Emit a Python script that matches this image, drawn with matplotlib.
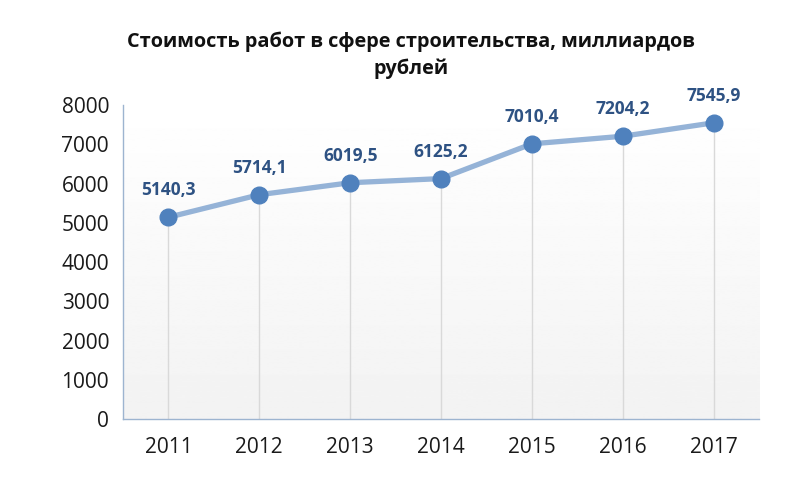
import matplotlib.pyplot as plt
import numpy as np

years = ["2011", "2012", "2013", "2014", "2015", "2016", "2017"]
values = [5140.3, 5714.1, 6019.5, 6125.2, 7010.4, 7204.2, 7545.9]
labels = ["5140,3", "5714,1", "6019,5", "6125,2", "7010,4", "7204,2", "7545,9"]
yticks = [0, 1000, 2000, 3000, 4000, 5000, 6000, 7000, 8000]
title = "Стоимость работ в сфере строительства, миллиардов\nрублей"

plt.rcParams['font.family'] = ['Open Sans', 'DejaVu Sans']

fig = plt.figure(figsize=(7.9, 4.87), dpi=100)
ax = fig.add_axes([0.1557, 0.1396, 0.8051, 0.6448])
x = np.arange(len(years))

# soft gradient fill of the plot area
grad = np.linspace(1.0, 0.95, 256).reshape(-1, 1)
ax.imshow(grad, cmap='gray', vmin=0, vmax=1, aspect='auto',
          extent=(-0.5, 6.5, 0, 8000), origin='upper', zorder=0)

ax.vlines(x, 0, values, color='#d9d9d9', lw=1, zorder=1)
ax.plot(x, values, color='#95b3d7', lw=3.8, zorder=2, solid_capstyle='round')
ax.plot(x, values, 'o', color='#4f81bd', ms=12, zorder=3)
for xi, v, t in zip(x, values, labels):
    ax.annotate(t, (xi, v), xytext=(0, 13), textcoords='offset points',
                ha='center', va='bottom', fontsize=12.5, fontweight='bold',
                color='#2e5283')

ax.set_xlim(-0.5, 6.5)
ax.set_ylim(0, 8000)
ax.set_xticks(x)
ax.set_xticklabels(years)
ax.set_yticks(yticks)
ax.tick_params(length=0, labelsize=15, colors='#1a1a1a', pad=10)
ax.tick_params(axis='x', pad=13)
for s in ['top', 'right']:
    ax.spines[s].set_visible(False)
for s in ['left', 'bottom']:
    ax.spines[s].set_color('#9db4d0')
    ax.spines[s].set_linewidth(1)

fig.text(0.52, 0.887, title, ha='center', va='center', fontsize=14.3,
         fontweight='bold', color='#111111', linespacing=1.45)

fig.savefig('out.png', dpi=100)
